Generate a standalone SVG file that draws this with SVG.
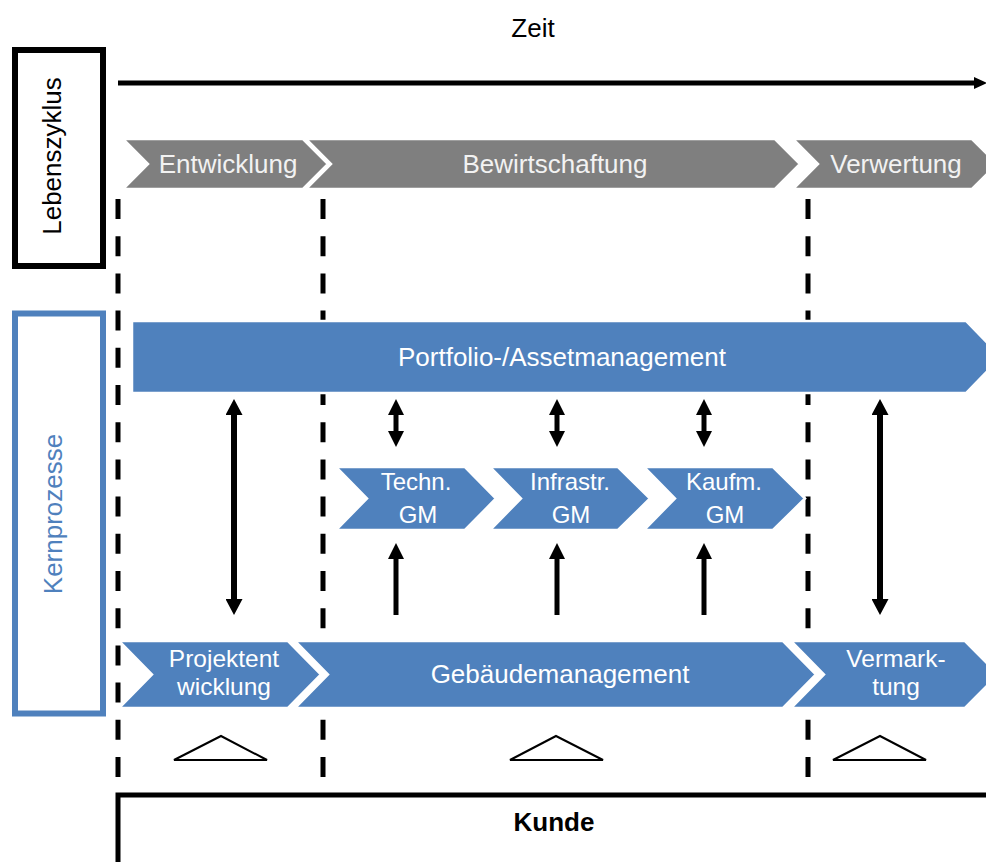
<svg xmlns="http://www.w3.org/2000/svg" width="986" height="862" viewBox="0 0 986 862">
  <defs>
    <style>
      text { font-family: "Liberation Sans", Arial, sans-serif; }
      .lbl { font-size: 26px; text-anchor: middle; }
      .two { font-size: 24.5px; }
      .wt { fill: #ffffff; }
      .gw { fill: #f2f2f2; }
      .sm { font-size: 24px; }
      .gray { fill: #7f7f7f; stroke: #ffffff; stroke-width: 2.5; stroke-linejoin: miter; }
      .blue { fill: #4f81bd; stroke: #ffffff; stroke-width: 2.5; stroke-linejoin: miter; }
      .dash { fill: none; stroke: #000; stroke-width: 5; stroke-dasharray: 20 17.2; }
      .tri { fill: #ffffff; stroke: #000; stroke-width: 2; }
      .arr { fill: none; stroke: #000; }
    </style>
    <marker id="headL" markerUnits="userSpaceOnUse" markerWidth="16" markerHeight="17" refX="0" refY="8.5" orient="auto-start-reverse">
      <path d="M0,0 L16,8.5 L0,17 z" fill="#000"/>
    </marker>
    <marker id="headS" markerUnits="userSpaceOnUse" markerWidth="16" markerHeight="16" refX="0" refY="8" orient="auto-start-reverse">
      <path d="M0,0 L16,8 L0,16 z" fill="#000"/>
    </marker>
  </defs>

  <rect width="986" height="862" fill="#ffffff"/>

  <!-- time axis -->
  <g id="zeit">
    <text class="lbl" x="533" y="37" fill="#000">Zeit</text>
    <line x1="118" y1="83" x2="976" y2="83" stroke="#000" stroke-width="5"/>
    <polygon points="974,77 987,83 974,89" fill="#000"/>
  </g>

  <!-- row headers -->
  <g id="lebenszyklus">
    <rect x="15" y="50" width="88" height="216" fill="none" stroke="#000" stroke-width="6"/>
    <text class="lbl" transform="translate(61,156) rotate(-90)" fill="#000">Lebenszyklus</text>
  </g>
  <g id="kernprozesse">
    <rect x="15" y="313.5" width="88" height="400" fill="none" stroke="#4f81bd" stroke-width="6"/>
    <text class="lbl" transform="translate(62,514) rotate(-90)" fill="#4f81bd">Kernprozesse</text>
  </g>

  <!-- phase separators -->
  <g id="separators">
    <line class="dash" x1="118" y1="199" x2="118" y2="780"/>
    <line class="dash" x1="323" y1="199" x2="323" y2="780"/>
    <line class="dash" x1="808" y1="199" x2="808" y2="780"/>
  </g>

  <!-- life-cycle phases -->
  <g id="entwicklung">
    <polygon class="gray" points="123,139 303,139 328,164 303,189 123,189 148,164"/>
    <text class="lbl gw" x="228" y="173">Entwicklung</text>
  </g>
  <g id="bewirtschaftung">
    <polygon class="gray" points="306,139 775,139 800,164 775,189 306,189 331,164"/>
    <text class="lbl gw" x="555" y="173">Bewirtschaftung</text>
  </g>
  <g id="verwertung">
    <polygon class="gray" points="793,139 972,139 997,164 972,189 793,189 818,164"/>
    <text class="lbl gw" x="896" y="173">Verwertung</text>
  </g>

  <!-- portfolio / asset management -->
  <g id="portfolio">
    <polygon class="blue" points="132,321 966,321 1001,357 966,393 132,393"/>
    <text class="lbl wt" x="562" y="366">Portfolio-/Assetmanagement</text>
  </g>

  <!-- facility management sub-processes -->
  <g id="techn-gm">
    <polygon class="blue" points="336,467 465,467 496,498.5 465,530 336,530 367,498.5"/>
    <text class="lbl sm wt" x="416" y="490">Techn.</text>
    <text class="lbl sm wt" x="418" y="523">GM</text>
  </g>
  <g id="infrastr-gm">
    <polygon class="blue" points="490,467 618,467 650,498.5 618,530 490,530 521,498.5"/>
    <text class="lbl sm wt" x="570" y="490">Infrastr.</text>
    <text class="lbl sm wt" x="571" y="523">GM</text>
  </g>
  <g id="kaufm-gm">
    <polygon class="blue" points="644,467 773,467 805,498.5 773,530 644,530 675,498.5"/>
    <text class="lbl sm wt" x="724" y="490">Kaufm.</text>
    <text class="lbl sm wt" x="725" y="523">GM</text>
  </g>

  <!-- core processes (white band keeps separators out of the gaps) -->
  <rect x="123" y="640" width="863" height="69" fill="#ffffff"/>
  <g id="projektentwicklung">
    <polygon class="blue" points="119,641 288,641 321,674.5 288,708 119,708 152,674.5"/>
    <text class="lbl two wt" x="224" y="667">Projektent</text>
    <text class="lbl two wt" x="224" y="695">wicklung</text>
  </g>
  <g id="gebaeudemanagement">
    <polygon class="blue" points="295,641 783,641 816,674.5 783,708 295,708 328,674.5"/>
    <text class="lbl wt" x="560" y="683">Gebäudemanagement</text>
  </g>
  <g id="vermarktung">
    <polygon class="blue" points="791,641 965,641 998,674.5 965,708 791,708 824,674.5"/>
    <text class="lbl two wt" x="896" y="667">Vermark-</text>
    <text class="lbl two wt" x="896" y="695">tung</text>
  </g>

  <!-- customer triangles -->
  <g id="triangles">
    <polygon class="tri" points="221,736 267,760 174,760"/>
    <polygon class="tri" points="556,736 603,760 510,760"/>
    <polygon class="tri" points="880,736 926,760 833,760"/>
  </g>

  <!-- customer -->
  <g id="kunde">
    <polyline points="118,862 118,795 986,795" fill="none" stroke="#000" stroke-width="5"/>
    <text class="lbl" x="554" y="831" font-weight="bold" fill="#000">Kunde</text>
  </g>

  <!-- connectors -->
  <g id="connectors">
    <line class="arr" stroke-width="6" x1="234" y1="415" x2="234" y2="599" marker-start="url(#headL)" marker-end="url(#headL)"/>
    <line class="arr" stroke-width="6" x1="880" y1="415" x2="880" y2="599" marker-start="url(#headL)" marker-end="url(#headL)"/>
    <line class="arr" stroke-width="5" x1="396" y1="415" x2="396" y2="431" marker-start="url(#headS)" marker-end="url(#headS)"/>
    <line class="arr" stroke-width="5" x1="557" y1="415" x2="557" y2="431" marker-start="url(#headS)" marker-end="url(#headS)"/>
    <line class="arr" stroke-width="5" x1="704" y1="415" x2="704" y2="431" marker-start="url(#headS)" marker-end="url(#headS)"/>
    <line class="arr" stroke-width="5" x1="396" y1="615" x2="396" y2="559" marker-end="url(#headS)"/>
    <line class="arr" stroke-width="5" x1="557" y1="615" x2="557" y2="559" marker-end="url(#headS)"/>
    <line class="arr" stroke-width="5" x1="704" y1="615" x2="704" y2="559" marker-end="url(#headS)"/>
  </g>
</svg>
